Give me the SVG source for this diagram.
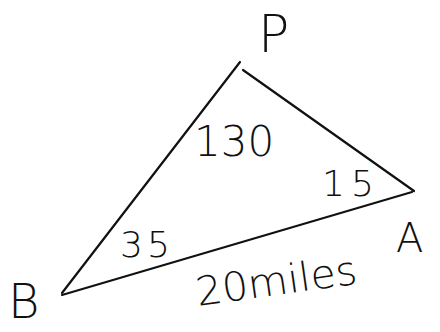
<svg xmlns="http://www.w3.org/2000/svg" width="440" height="332" viewBox="0 0 440 332">
<style>
.edge{stroke:#111;stroke-width:2.2;fill:none;stroke-linecap:round}
.lbl{font-family:"DejaVu Sans","Liberation Sans",sans-serif;fill:#111;font-weight:300}
</style>
<rect width="440" height="332" fill="#fff"/>
<g id="connectors">
<path class="edge" d="M62,293 L240,62"/>
<path class="edge" d="M243,70 L414,191"/>
<path class="edge" d="M62,295 L412,192"/>
</g>
<g id="node-P"><text class="lbl" x="258" y="52" font-size="52">P</text></g>
<g id="node-A"><text class="lbl" x="396" y="252" font-size="40">A</text></g>
<g id="node-B"><text class="lbl" x="8" y="318" font-size="48">B</text></g>
<g id="angle-labels">
<text class="lbl" x="194" y="156" font-size="42">130</text>
<text class="lbl" x="322" y="196" font-size="36" letter-spacing="6">15</text>
<text class="lbl" x="120" y="257" font-size="36" letter-spacing="4">35</text>
</g>
<g id="side-label"><text class="lbl" x="198" y="306" font-size="40" transform="rotate(-8 198 306)" textLength="162" lengthAdjust="spacingAndGlyphs">20miles</text></g>
</svg>
